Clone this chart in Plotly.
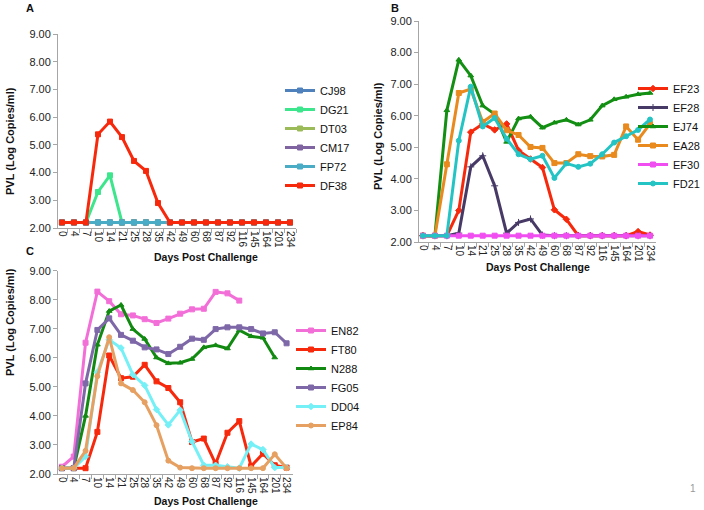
import plotly.graph_objects as go

W, H = 704, 510

days = ["0", "4", "7", "10", "14", "21", "25", "28", "35", "42", "49", "60",
        "68", "87", "92", "116", "145", "164", "201", "234"]

# Panel A
A_names = ["CJ98", "DG21", "DT03", "CM17", "FP72", "DF38"]
CJ98 = [2.2, 2.2, 2.2, 2.2, 2.2, 2.2, 2.2, 2.2, 2.2, 2.2, 2.2, 2.2, 2.2, 2.2, 2.2, 2.2, 2.2, 2.2, 2.2, 2.2]
DG21 = [2.2, 2.2, 2.2, 3.30, 3.90, 2.2, 2.2, 2.2, 2.2, 2.2, 2.2, 2.2, 2.2, 2.2, 2.2, 2.2, 2.2, 2.2, 2.2, 2.2]
DT03 = [2.2, 2.2, 2.2, 2.2, 2.2, 2.2, 2.2, 2.2, 2.2, 2.2, 2.2, 2.2, 2.2, 2.2, 2.2, 2.2, 2.2, 2.2, 2.2, 2.2]
CM17 = [2.2, 2.2, 2.2, 2.2, 2.2, 2.2, 2.2, 2.2, 2.2, 2.2, 2.2, 2.2, 2.2, 2.2, 2.2, 2.2, 2.2, 2.2, 2.2, 2.2]
FP72 = [2.2, 2.2, 2.2, 2.2, 2.2, 2.2, 2.2, 2.2, 2.2, 2.2, 2.2, 2.2, 2.2, 2.2, 2.2, 2.2, 2.2, 2.2, 2.2, 2.2]
DF38 = [2.2, 2.2, 2.2, 5.38, 5.84, 5.28, 4.42, 4.06, 2.90, 2.2, 2.2, 2.2, 2.2, 2.2, 2.2, 2.2, 2.2, 2.2, 2.2, 2.2]
A_colors = ["#4f81bd", "#3de68c", "#9bbb59", "#8064a2", "#4bacc6", "#f7290c"]
A_symbols = ["square", "square", "square", "square", "square", "square"]

# Panel B
B_names = ["EF23", "EF28", "EJ74", "EA28", "EF30", "FD21"]
EF23 = [2.2, 2.2, 2.2, 3.0, 5.48, 5.74, 5.55, 5.74, 4.90, 4.63, 4.36, 3.02, 2.72, 2.2, 2.2, 2.2, 2.2, 2.2, 2.33, 2.22]
EF28 = [2.2, 2.2, 2.2, 2.28, 4.38, 4.73, 3.78, 2.28, 2.62, 2.73, 2.22, 2.2, 2.2, 2.2, 2.2, 2.2, 2.2, 2.2, 2.2, 2.2]
EJ74 = [2.2, 2.2, 6.17, 7.77, 7.27, 6.32, 6.05, 5.17, 5.91, 5.97, 5.62, 5.78, 5.87, 5.72, 5.87, 6.32, 6.52, 6.60, 6.68, 6.72]
EA28 = [2.2, 2.2, 4.46, 6.72, 6.84, 5.80, 6.07, 5.54, 5.39, 5.01, 4.98, 4.50, 4.50, 4.78, 4.72, 4.71, 4.76, 5.66, 5.24, 5.74]
EF30 = [2.2, 2.2, 2.2, 2.2, 2.2, 2.2, 2.2, 2.2, 2.2, 2.2, 2.2, 2.2, 2.2, 2.2, 2.2, 2.2, 2.2, 2.2, 2.2, 2.2]
FD21 = [2.2, 2.2, 2.2, 5.21, 6.92, 5.66, 5.93, 5.27, 4.78, 4.62, 4.73, 4.03, 4.49, 4.38, 4.48, 4.78, 5.15, 5.35, 5.55, 5.88]
B_colors = ["#f7290c", "#473a66", "#138f13", "#e88a1e", "#f14ef1", "#25c4c4"]
B_symbols = ["diamond", "cross-thin", "triangle-up", "square", "square", "circle"]

# Panel C
C_names = ["EN82", "FT80", "N288", "FG05", "DD04", "EP84"]
EN82 = [2.25, 2.6, 6.52, 8.28, 7.95, 7.50, 7.46, 7.33, 7.20, 7.35, 7.52, 7.67, 7.69, 8.27, 8.22, 7.97, None, None, None, None]
FT80 = [2.2, 2.2, 2.2, 3.45, 6.08, 5.30, 5.35, 5.76, 5.19, 4.96, 4.47, 3.10, 3.22, 2.35, 3.42, 3.82, 2.27, 2.70, 2.30, 2.22]
N288 = [2.2, 2.2, 4.0, 6.45, 7.61, 7.82, 6.99, 6.65, 6.01, 5.81, 5.83, 5.96, 6.36, 6.43, 6.32, 6.95, 6.74, 6.69, 6.01, None]
FG05 = [2.2, 2.2, 5.12, 6.96, 7.36, 6.79, 6.59, 6.36, 6.29, 6.13, 6.38, 6.66, 6.62, 6.99, 7.05, 7.05, 6.99, 6.84, 6.88, 6.50]
DD04 = [2.2, 2.2, 2.6, 5.5, 6.62, 6.34, 5.42, 5.05, 4.22, 3.69, 4.20, 3.12, 2.30, 2.30, 2.25, 2.2, 3.03, 2.84, 2.22, 2.22]
EP84 = [2.2, 2.2, 2.8, 5.37, 6.71, 5.12, 4.89, 4.47, 3.68, 2.46, 2.22, 2.2, 2.2, 2.2, 2.2, 2.2, 2.2, 2.2, 2.68, 2.2]
C_colors = ["#f36fd8", "#f7290c", "#128a12", "#7e68a8", "#74f0f6", "#e6a062"]
C_symbols = ["square", "square", "triangle-up", "square", "diamond", "circle"]

y_ticks = [2, 3, 4, 5, 6, 7, 8, 9]
y_labels = ["2.00", "3.00", "4.00", "5.00", "6.00", "7.00", "8.00", "9.00"]

FONT = "Liberation Sans, Arial, sans-serif"


def px(x):
    return x / W


def py(y):
    return 1 - y / H


fig = go.Figure()

panels = [
    ("x", "y", "legend", A_names, [CJ98, DG21, DT03, CM17, FP72, DF38], A_colors, A_symbols),
    ("x2", "y2", "legend2", B_names, [EF23, EF28, EJ74, EA28, EF30, FD21], B_colors, B_symbols),
    ("x3", "y3", "legend3", C_names, [EN82, FT80, N288, FG05, DD04, EP84], C_colors, C_symbols),
]

for xa, ya, lg, names, series, colors, symbols in panels:
    for nm, vals, col, sym in zip(names, series, colors, symbols):
        fig.add_trace(go.Scatter(
            x=days, y=vals, name=nm, mode="lines+markers",
            xaxis=xa, yaxis=ya, legend=lg,
            line=dict(color=col, width=3),
            marker=dict(color=col, size=5, symbol=sym,
                        line=dict(color=col, width=1)),
            connectgaps=False,
        ))

axis_common = dict(showgrid=False, zeroline=False, showline=True,
                   linecolor="#a6a6a6", linewidth=1, ticks="outside",
                   tickcolor="#a6a6a6", ticklen=4, automargin=False)

dom = {
    "A": dict(x=(58, 296), y=(34, 228)),
    "B": dict(x=(419, 656), y=(21, 242)),
    "C": dict(x=(58, 292.5), y=(270.7, 474)),
}

for key, sfx in (("A", ""), ("B", "2"), ("C", "3")):
    d = dom[key]
    fig.update_layout(**{
        "xaxis" + sfx: dict(axis_common, type="category", domain=[px(d["x"][0]), px(d["x"][1])],
                            anchor="y" + sfx, range=[-0.33, 19.5], tickangle=90,
                            tickson="boundaries", tickmode="linear", tick0=0, dtick=1,
                            tickfont=dict(family=FONT, size=10, color="#222")),
        "yaxis" + sfx: dict(axis_common, domain=[py(d["y"][1]), py(d["y"][0])],
                            anchor="x" + sfx, range=[2, 9], tickvals=y_ticks,
                            ticktext=y_labels,
                            tickfont=dict(family=FONT, size=11, color="#222")),
    })

leg_common = dict(font=dict(family=FONT, size=11, color="#111"),
                  bgcolor="rgba(0,0,0,0)", itemwidth=30,
                  xanchor="left", yanchor="top", orientation="v")
fig.update_layout(
    legend=dict(leg_common, x=px(280), y=py(76)),
    legend2=dict(leg_common, x=px(633), y=py(74)),
    legend3=dict(leg_common, x=px(291), y=py(316)),
)

ann = []


def add_text(text, x, y, size, bold=False, angle=0, color="#111"):
    ann.append(dict(text=("<b>%s</b>" % text) if bold else text,
                    x=px(x), y=py(y), xref="paper", yref="paper",
                    showarrow=False, textangle=angle,
                    font=dict(family=FONT, size=size, color=color),
                    xanchor="center", yanchor="middle"))


add_text("A", 30, 8, 11, bold=True)
add_text("B", 395, 8, 11, bold=True)
add_text("C", 30, 251, 11, bold=True)
add_text("PVL (Log Copies/ml)", 10, 141, 11, bold=True, angle=-90)
add_text("PVL (Log Copies/ml)", 378, 136, 11, bold=True, angle=-90)
add_text("PVL (Log Copies/ml)", 10, 322, 11, bold=True, angle=-90)
add_text("Days Post Challenge", 206, 257, 10.5, bold=True)
add_text("Days Post Challenge", 538, 267, 10.5, bold=True)
add_text("Days Post Challenge", 206, 501, 10.5, bold=True)
add_text("1", 693, 488, 10, color="#999")

fig.update_layout(
    width=W, height=H, margin=dict(l=0, r=0, t=0, b=0, autoexpand=False),
    paper_bgcolor="white", plot_bgcolor="white",
    annotations=ann, showlegend=True,
    font=dict(family=FONT),
)

fig.write_html("out.html", config={"displayModeBar": False},
               post_script="document.body.style.margin='0';document.body.style.padding='0';")
